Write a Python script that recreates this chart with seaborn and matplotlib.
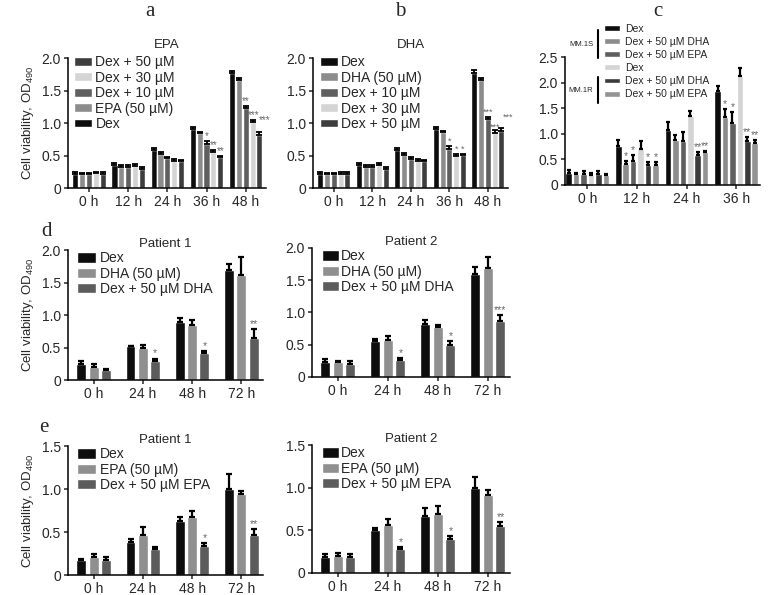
import numpy as np
import pandas as pd
import matplotlib
matplotlib.use('Agg')
import matplotlib.pyplot as plt
from matplotlib.lines import Line2D
import seaborn as sns

sns.set_style('ticks')
plt.rcParams['font.family'] = ['Liberation Sans', 'DejaVu Sans']
plt.rcParams['mathtext.default'] = 'regular'

# ---- a: EPA ----
a_times = ['0 h', '12 h', '24 h', '36 h', '48 h']
a_groups = ['Dex', 'EPA (50 µM)', 'Dex + 10 µM', 'Dex + 30 µM', 'Dex + 50 µM']
a_vals = [[0.22, 0.36, 0.59, 0.91, 1.77],
          [0.21, 0.33, 0.52, 0.84, 1.66],
          [0.21, 0.33, 0.46, 0.67, 1.23],
          [0.23, 0.34, 0.41, 0.56, 1.02],
          [0.21, 0.30, 0.41, 0.47, 0.81]]
a_err = [[0.02, 0.02, 0.02, 0.03, 0.03],
         [0.02, 0.03, 0.03, 0.02, 0.03],
         [0.02, 0.03, 0.02, 0.05, 0.03],
         [0.02, 0.03, 0.03, 0.03, 0.03],
         [0.03, 0.02, 0.02, 0.02, 0.05]]
# (time index, group index, label)
a_stars = [(3, 2, '*'), (3, 3, '**'), (3, 4, '**'), (4, 2, '**'), (4, 3, '***'), (4, 4, '***')]

# ---- b: DHA ----
b_times = ['0 h', '12 h', '24 h', '36 h', '48 h']
b_groups = ['Dex', 'DHA (50 µM)', 'Dex + 10 µM', 'Dex + 30 µM', 'Dex + 50 µM']
b_vals = [[0.22, 0.36, 0.59, 0.91, 1.77],
          [0.21, 0.33, 0.51, 0.86, 1.66],
          [0.21, 0.33, 0.45, 0.60, 1.06],
          [0.22, 0.35, 0.41, 0.50, 0.85],
          [0.22, 0.30, 0.41, 0.51, 0.87]]
b_err = [[0.02, 0.02, 0.02, 0.03, 0.04],
         [0.02, 0.03, 0.03, 0.02, 0.03],
         [0.02, 0.03, 0.02, 0.05, 0.03],
         [0.02, 0.03, 0.03, 0.03, 0.04],
         [0.03, 0.02, 0.02, 0.02, 0.05]]
b_stars = [(3, 2, '*'), (3, 3, '*'), (3, 4, '*'), (4, 2, '***'), (4, 3, '***'), (4, 4, '***')]

# ---- c: MM.1S / MM.1R ----
c_times = ['0 h', '12 h', '24 h', '36 h']
c_groups = ['S Dex', 'S DHA', 'S EPA', 'R Dex', 'R DHA', 'R EPA']
c_labels = ['Dex', 'Dex + 50 µM DHA', 'Dex + 50 µM EPA', 'Dex', 'Dex + 50 µM DHA', 'Dex + 50 µM EPA']
c_vals = [[0.23, 0.76, 1.08, 1.83],
          [0.21, 0.41, 0.87, 1.33],
          [0.22, 0.46, 0.86, 1.21],
          [0.19, 0.71, 1.34, 2.13],
          [0.22, 0.40, 0.58, 0.86],
          [0.19, 0.40, 0.64, 0.82]]
c_err = [[0.07, 0.11, 0.15, 0.11],
         [0.02, 0.05, 0.10, 0.15],
         [0.06, 0.13, 0.17, 0.21],
         [0.04, 0.14, 0.11, 0.15],
         [0.05, 0.04, 0.06, 0.07],
         [0.03, 0.05, 0.02, 0.06]]
c_stars = [(1, 1, '*'), (1, 2, '*'), (1, 4, '*'), (1, 5, '*'), (2, 4, '**'), (2, 5, '**'),
           (3, 1, '*'), (3, 2, '*'), (3, 4, '**'), (3, 5, '**')]

# ---- d/e: patients ----
p_times = ['0 h', '24 h', '48 h', '72 h']
d_groups = ['Dex', 'DHA (50 µM)', 'Dex + 50 µM DHA']
e_groups = ['Dex', 'EPA (50 µM)', 'Dex + 50 µM EPA']

d1_vals = [[0.24, 0.52, 0.90, 1.69], [0.20, 0.50, 0.85, 1.62], [0.16, 0.29, 0.42, 0.65]]
d1_err = [[0.05, 0.01, 0.05, 0.10], [0.04, 0.04, 0.08, 0.27], [0.01, 0.04, 0.03, 0.13]]
d1_stars = [(1, 2, '*'), (2, 2, '*'), (3, 2, '**')]

d2_vals = [[0.24, 0.56, 0.82, 1.60], [0.23, 0.57, 0.78, 1.69], [0.20, 0.26, 0.49, 0.87]]
d2_err = [[0.04, 0.03, 0.06, 0.10], [0.02, 0.07, 0.02, 0.17], [0.05, 0.04, 0.07, 0.09]]
d2_stars = [(1, 2, '*'), (2, 2, '*'), (3, 2, '***')]

e1_vals = [[0.18, 0.38, 0.63, 1.00], [0.21, 0.46, 0.68, 0.94], [0.18, 0.30, 0.34, 0.46]]
e1_err = [[0.01, 0.04, 0.05, 0.17], [0.04, 0.10, 0.07, 0.04], [0.03, 0.03, 0.03, 0.07]]
e1_stars = [(2, 2, '*'), (3, 2, '**')]

e2_vals = [[0.19, 0.50, 0.67, 1.00], [0.20, 0.56, 0.69, 0.91], [0.19, 0.28, 0.40, 0.55]]
e2_err = [[0.03, 0.03, 0.09, 0.12], [0.03, 0.07, 0.09, 0.06], [0.03, 0.02, 0.03, 0.05]]
e2_stars = [(1, 2, '*'), (2, 2, '*'), (3, 2, '**')]

five_cols = ['#0d0d0d', '#8c8c8c', '#5f5f5f', '#d4d4d4', '#3d3d3d']
six_cols = ['#0d0d0d', '#8c8c8c', '#5f5f5f', '#d4d4d4', '#3a3a3a', '#939393']
three_cols = ['#0d0d0d', '#8f8f8f', '#5c5c5c']

fig = plt.figure(figsize=(7.78, 5.95), dpi=100)


def panel(rect, times, groups, vals, errs, cols, stars, ymax, xlim,
          width=0.88, gap=0.12, lw=1.3, cap=2, title=None, tpad=2, ylabel=False,
          sfs=7.5, nudge=None):
    ax = fig.add_axes(rect)
    df = pd.DataFrame([(t, g, v) for g, row in zip(groups, vals) for t, v in zip(times, row)],
                      columns=['time', 'group', 'value'])
    sns.barplot(data=df, x='time', y='value', hue='group', order=times, hue_order=groups,
                palette=dict(zip(groups, cols)), saturation=1, errorbar=None,
                width=width, gap=gap, ax=ax)
    bar_sets = list(ax.containers)
    for bars, err in zip(bar_sets, errs):
        xs = [b.get_x() + b.get_width() / 2 for b in bars]
        ys = [b.get_height() for b in bars]
        ax.errorbar(xs, ys, yerr=[np.zeros(len(err)), err], fmt='none', ecolor='black',
                    elinewidth=lw, capsize=cap, capthick=lw)
    nudge = nudge or {}
    for ti, gi, s in stars:
        b = bar_sets[gi][ti]
        ax.annotate(s, (b.get_x() + b.get_width() / 2, b.get_height() + errs[gi][ti]),
                    xytext=nudge.get((ti, gi), (0, 0)), textcoords='offset points',
                    ha='center', va='bottom', fontsize=sfs, color='#666666')
    ax.set_ylim(0, ymax)
    ax.set_xlim(*xlim)
    ticks = np.arange(0, ymax + 0.01, 0.5)
    ax.set_yticks(ticks)
    ax.set_yticklabels(['0' if t == 0 else f'{t:.1f}' for t in ticks])
    ax.set_xlabel('')
    ax.set_ylabel('Cell viability, OD$_{490}$' if ylabel else '', fontsize=9.5, labelpad=4)
    sns.despine(ax=ax)
    for sp in ['left', 'bottom']:
        ax.spines[sp].set_linewidth(1.1)
        ax.spines[sp].set_color('black')
    ax.tick_params(direction='out', length=3, width=1.1, labelsize=10, pad=2)
    if title:
        ax.set_title(title, fontsize=9.5, pad=tpad)
    return ax


def std_legend(ax, anchor, order=None, fs=10, hh=0.6, hl=1.3, ls=0.1, labels=None, tp=0.25):
    h, l = ax.get_legend_handles_labels()
    if labels is not None:
        l = labels
    if order is not None:
        h = [h[i] for i in order]
        l = [l[i] for i in order]
    ax.legend(h, l, loc='upper left', bbox_to_anchor=anchor, frameon=False, fontsize=fs,
              handleheight=hh, handlelength=hl, handletextpad=tp, labelspacing=ls,
              borderpad=0, borderaxespad=0)


# a
ax_a = panel([0.0874, 0.684, 0.2545, 0.2185], a_times, a_groups, a_vals, a_err, five_cols,
             a_stars, 2.0, (-0.54, 4.52), title='EPA', tpad=7, ylabel=True, sfs=7,
             nudge={(4, 3): (1, 0), (4, 4): (4, 5)})
std_legend(ax_a, (0.03, 1.02), order=[4, 3, 2, 1, 0])

# b
ax_b = panel([0.4023, 0.684, 0.2506, 0.2185], b_times, b_groups, b_vals, b_err, five_cols,
             b_stars, 2.0, (-0.54, 4.52), title='DHA', tpad=7, sfs=6.5,
             nudge={(4, 3): (0, -1), (4, 4): (5, 5)})
std_legend(ax_b, (0.035, 1.02))

# c
ax_c = panel([0.7262, 0.6891, 0.2506, 0.2151], c_times, c_groups, c_vals, c_err, six_cols,
             c_stars, 2.5, (-0.45, 3.48), width=0.9, gap=0.12, lw=1.6, cap=1.5)
std_legend(ax_c, (0.2, 1.26), fs=7.5, hh=0.5, hl=1.5, ls=0.3, labels=c_labels, tp=0.5)
for y0, y1 in [(30, 58), (77, 103)]:
    fig.add_artist(Line2D([598 / 778, 598 / 778], [1 - y0 / 595, 1 - y1 / 595],
                          color='black', lw=1.5))
fig.text(581 / 778, 1 - 44 / 595, 'MM.1S', fontsize=5.5, ha='center', va='center')
fig.text(581 / 778, 1 - 90 / 595, 'MM.1R', fontsize=5.5, ha='center', va='center')

# d
ax_d1 = panel([0.0874, 0.3613, 0.2506, 0.2185], p_times, d_groups, d1_vals, d1_err, three_cols,
              d1_stars, 2.0, (-0.52, 3.44), width=0.75, gap=0.2, lw=1.6, cap=2.5,
              title='Patient 1', ylabel=True)
std_legend(ax_d1, (0.045, 0.99), hh=0.75, hl=1.4)
ax_d2 = panel([0.4010, 0.3664, 0.2545, 0.2168], p_times, d_groups, d2_vals, d2_err, three_cols,
              d2_stars, 2.0, (-0.52, 3.44), width=0.75, gap=0.2, lw=1.6, cap=2.5,
              title='Patient 2')
std_legend(ax_d2, (0.05, 0.99), hh=0.75, hl=1.2, tp=0.15)

# e
ax_e1 = panel([0.0874, 0.0336, 0.2506, 0.2168], p_times, e_groups, e1_vals, e1_err, three_cols,
              e1_stars, 1.5, (-0.52, 3.44), width=0.75, gap=0.2, lw=1.6, cap=2.5,
              title='Patient 1', ylabel=True)
std_legend(ax_e1, (0.045, 0.99), hh=0.75, hl=1.4)
ax_e2 = panel([0.4010, 0.0370, 0.2545, 0.2151], p_times, e_groups, e2_vals, e2_err, three_cols,
              e2_stars, 1.5, (-0.52, 3.44), width=0.75, gap=0.2, lw=1.6, cap=2.5,
              title='Patient 2')
std_legend(ax_e2, (0.05, 0.99), hh=0.75, hl=1.2, tp=0.15)

# panel letters
for s, x, y in [('a', 150, 12), ('b', 400, 12), ('c', 658, 11), ('d', 47, 231), ('e', 44, 428)]:
    fig.text(x / 778, 1 - y / 595, s, fontsize=15, family=['Liberation Serif', 'DejaVu Serif'],
             ha='center', va='center')

fig.savefig('out.png', dpi=100)
